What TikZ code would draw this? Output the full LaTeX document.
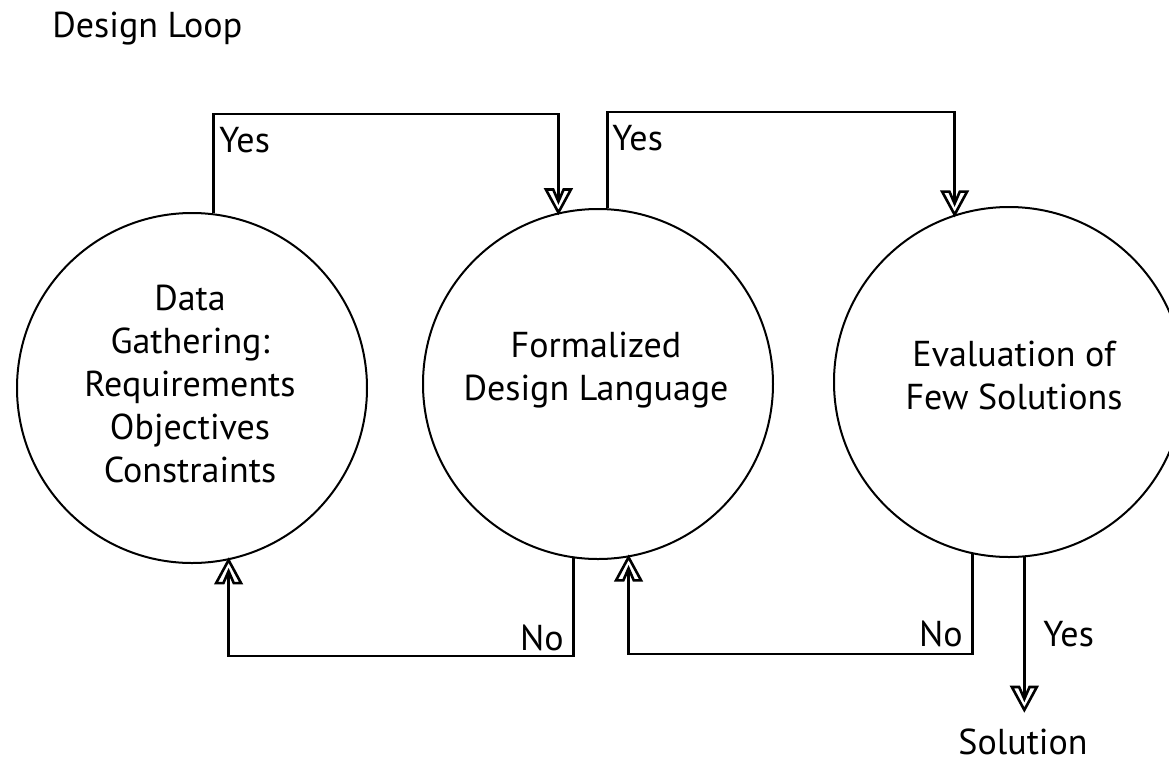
\documentclass[tikz,border=0pt]{standalone}
\usepackage{fontspec}
\setmainfont{PT Sans}
\usetikzlibrary{arrows.meta}
\pgfdeclarearrow{
  name = Chev,
  setup code = {
    \pgfarrowssettipend{0pt}
    \pgfarrowssetlineend{-5.5pt}
    \pgfarrowssetbackend{-11.5pt}
    \pgfarrowshullpoint{0pt}{0pt}
    \pgfarrowsupperhullpoint{-11.5pt}{6.25pt}
  },
  drawing code = {
    \pgfpathmoveto{\pgfpointorigin}
    \pgfpathlineto{\pgfpoint{-11.5pt}{6.25pt}}
    \pgfpathlineto{\pgfpoint{-11.5pt}{2.6pt}}
    \pgfpathlineto{\pgfpoint{-5.5pt}{0pt}}
    \pgfpathlineto{\pgfpoint{-11.5pt}{-2.6pt}}
    \pgfpathlineto{\pgfpoint{-11.5pt}{-6.25pt}}
    \pgfpathclose
    \pgfusepathqfillstroke
  },
}
\tikzset{
  circ/.style={circle, draw, line width=1pt, minimum size=175pt, inner sep=0pt},
  ctext/.style={align=center, font=\fontsize{18}{21.5}\selectfont, inner sep=0pt},
  lbl/.style={font=\fontsize{18}{21.5}\selectfont, inner sep=0pt},
  conn/.style={line width=1.3pt},
  arr/.style={conn, -{Chev[fill=white, line width=0.8pt]}},
}
\begin{document}
\begin{tikzpicture}[x=0.5pt, y=-0.5pt]
\useasboundingbox (0,0) rectangle (1169,762);
\node[lbl, anchor=base west] (title) at (52,37) {Design Loop};

\node[circ] (L) at (192,388) {};
\node[circ] (M) at (598,384) {};
\node[circ] (R) at (1009,382) {};

\node[ctext] (Lt) at (190,384) {Data\\Gathering:\\Requirements\\Objectives\\Constraints};
\node[ctext] (Mt) at (596,370) {Formalized\\Design Language};
\node[ctext] (Rt) at (1014,375) {Evaluation of\\Few Solutions};

\coordinate (y1) at (0,114);
\coordinate (y2) at (0,112);
\coordinate (n1) at (0,656);
\coordinate (n2) at (0,654);

\draw[arr] (L.83) -- (L.83 |- y1) -| (M.103);
\draw[arr] (M.87) -- (M.87 |- y2) -| (R.108.5);
\draw[arr] (M.-98) -- (M.-98 |- n1) -| (L.-78);
\draw[arr] (R.-102) -- (R.-102 |- n2) -| (M.-80.5);

\node[lbl, anchor=base] (sol) at (1023,754) {Solution};
\draw[arr, shorten >=9pt] (R.-85) -- (R.-85 |- sol.north);

\node[lbl, anchor=base west] (yes1) at (219,152) {Yes};
\node[lbl, anchor=base west] (yes2) at (612,150) {Yes};
\node[lbl, anchor=base east] (no1) at (564,650) {No};
\node[lbl, anchor=base east] (no2) at (963,646) {No};
\node[lbl, anchor=base west] (yes3) at (1043,646) {Yes};
\end{tikzpicture}
\end{document}
